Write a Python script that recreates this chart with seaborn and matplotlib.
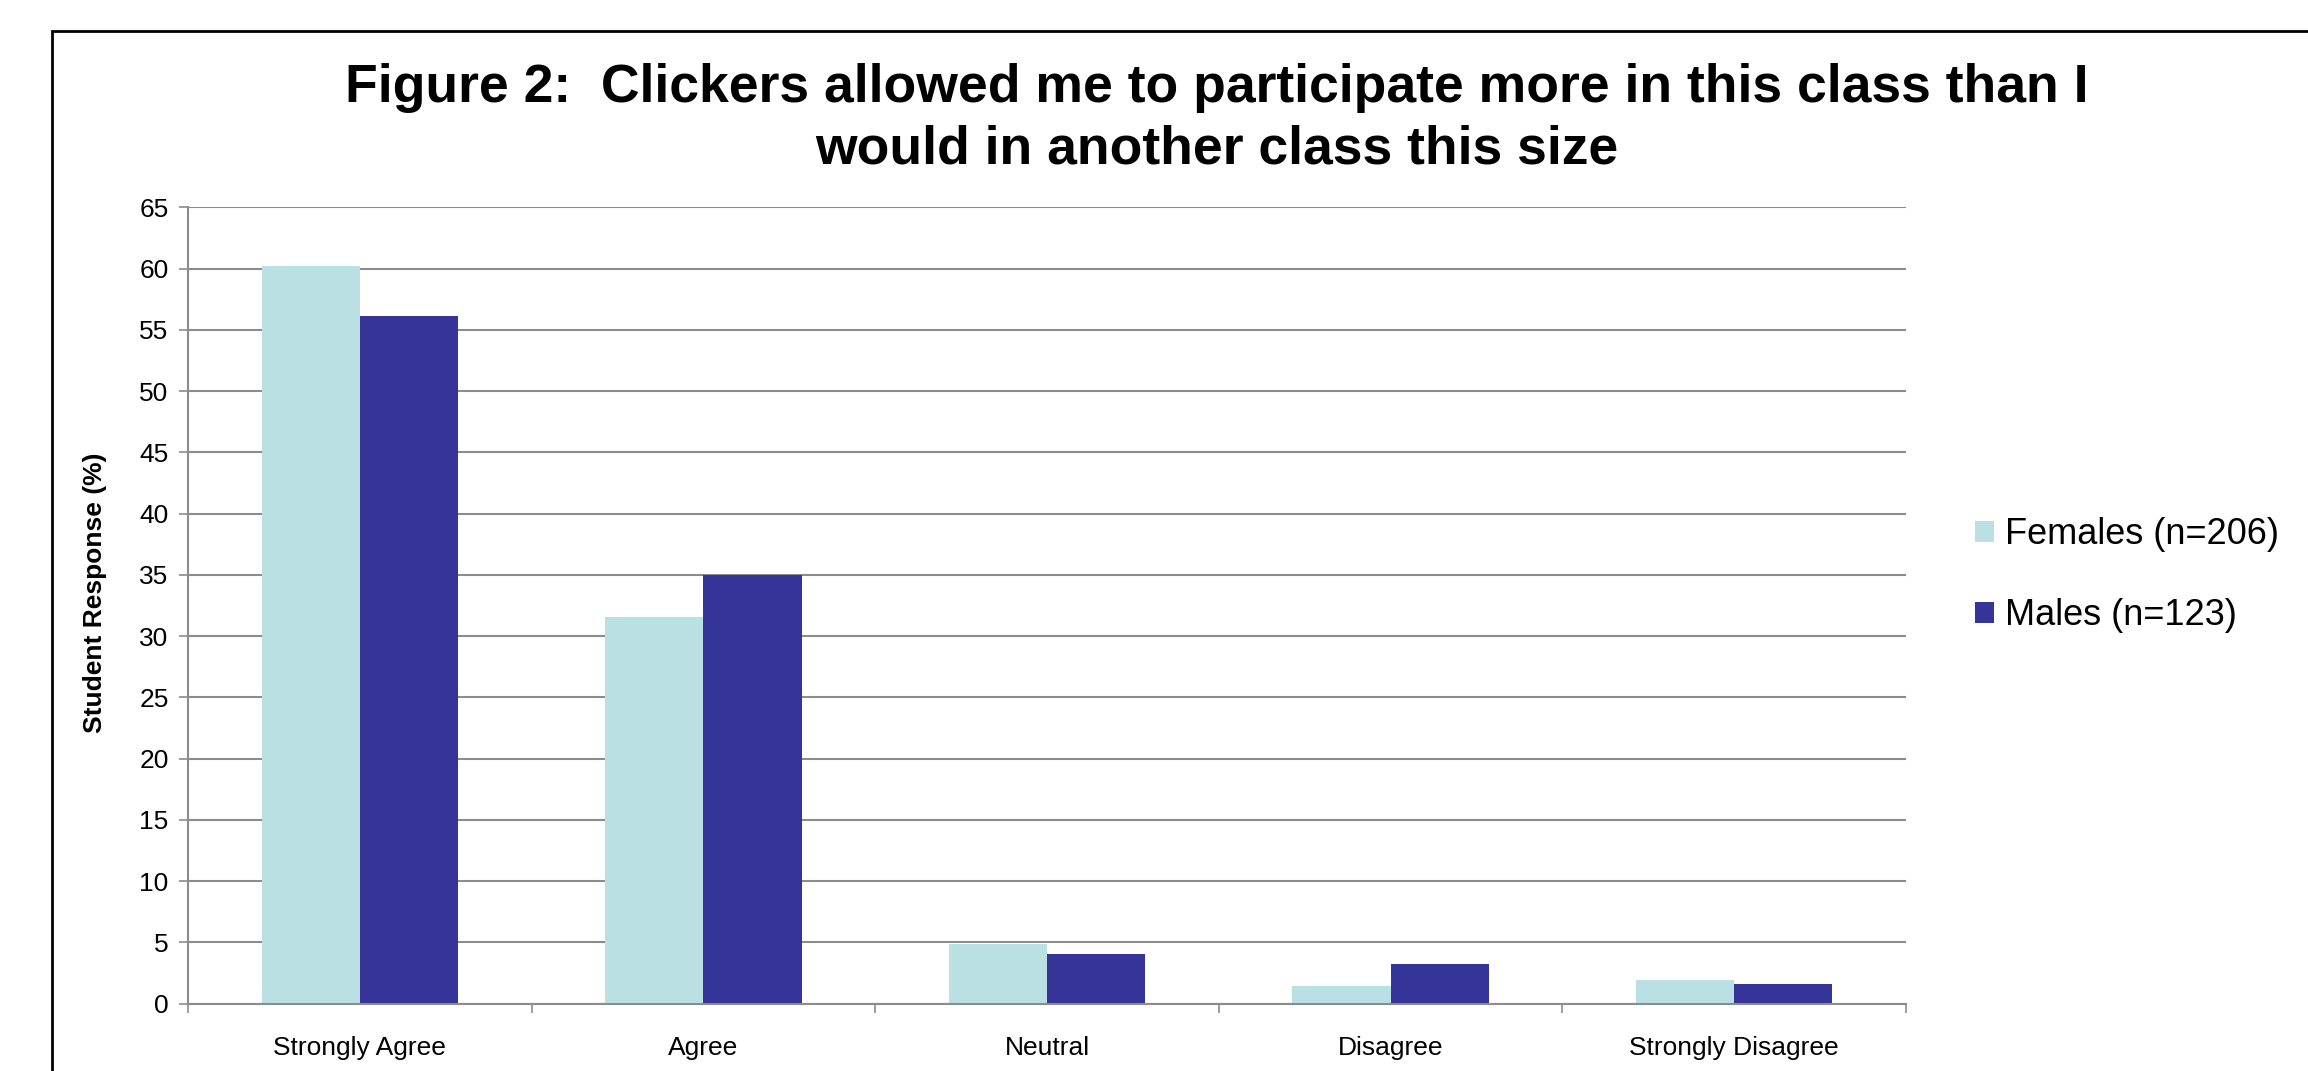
import pandas as pd
import numpy as np
import seaborn as sns
import matplotlib.pyplot as plt
from matplotlib.patches import Rectangle

# data (percent of respondents)
responses = ["Strongly Agree", "Agree", "Neutral", "Disagree", "Strongly Disagree"]
females = [60.19, 31.55, 4.85, 1.46, 1.94]
males = [56.10, 34.96, 4.07, 3.25, 1.63]
groups = ["Females (n=206)", "Males (n=123)"]
y_ticks = list(range(0, 70, 5))

df = pd.DataFrame({
    "Response": responses * 2,
    "Percent": females + males,
    "Group": [groups[0]] * len(responses) + [groups[1]] * len(responses),
})

sns.set_theme(style="white")
plt.rcParams["font.family"] = ["Liberation Sans", "DejaVu Sans"]
plt.rcParams["text.color"] = "black"

fig = plt.figure(figsize=(23.08, 10.71), dpi=100)
ax = fig.add_axes([0.0815, 0.0629, 0.7443, 0.7434])

sns.barplot(data=df, x="Response", y="Percent", hue="Group",
            palette=["#BAE0E3", "#343499"], width=0.5714, gap=0,
            saturation=1, edgecolor="none", ax=ax)

ax.set_ylim(0, 65)
ax.set_xlim(-0.5, 4.5)
ax.set_yticks(y_ticks)
ax.set_xticks(range(len(responses)))
ax.set_xticklabels(responses)
ax.set_xticks(np.arange(-0.5, 5, 1), minor=True)

ax.tick_params(axis="y", labelsize=19, length=6.5, width=1.2, color="#8c8c8c",
               left=True, pad=7.5, labelcolor="black")
ax.tick_params(axis="x", which="major", labelsize=19, length=0, pad=23,
               labelcolor="black")
ax.tick_params(axis="x", which="minor", length=6.5, width=1.2, color="#8c8c8c",
               bottom=True)

ax.yaxis.grid(True, color="#8c8c8c", linewidth=1.5)
ax.set_axisbelow(True)
for s in ["top", "right"]:
    ax.spines[s].set_visible(False)
for s in ["left", "bottom"]:
    ax.spines[s].set_color("#8c8c8c")
    ax.spines[s].set_linewidth(1.5)

ax.set_xlabel("")
ax.set_ylabel("Student Response (%)", fontsize=19, fontweight="bold", color="black")
ax.yaxis.set_label_coords(-0.047, 0.516)

leg = ax.legend(loc="center left", bbox_to_anchor=(0.848, 0.463),
                bbox_transform=fig.transFigure, frameon=False, fontsize=26,
                handlelength=0.53, handleheight=0.53, handletextpad=0.3,
                labelspacing=1.28, borderpad=0)
for t in leg.get_texts():
    t.set_color("black")

fig.text(0.527, 0.889,
         "Figure 2:  Clickers allowed me to participate more in this class than I\n"
         "would in another class this size",
         ha="center", va="center", fontsize=38.5, fontweight="bold",
         linespacing=1.3, color="black")

fig.add_artist(Rectangle((51.5 / 2308, -0.5), 2, 1.471, transform=fig.transFigure,
                         fill=False, edgecolor="black", linewidth=2))

fig.savefig("out.png", dpi=100)
